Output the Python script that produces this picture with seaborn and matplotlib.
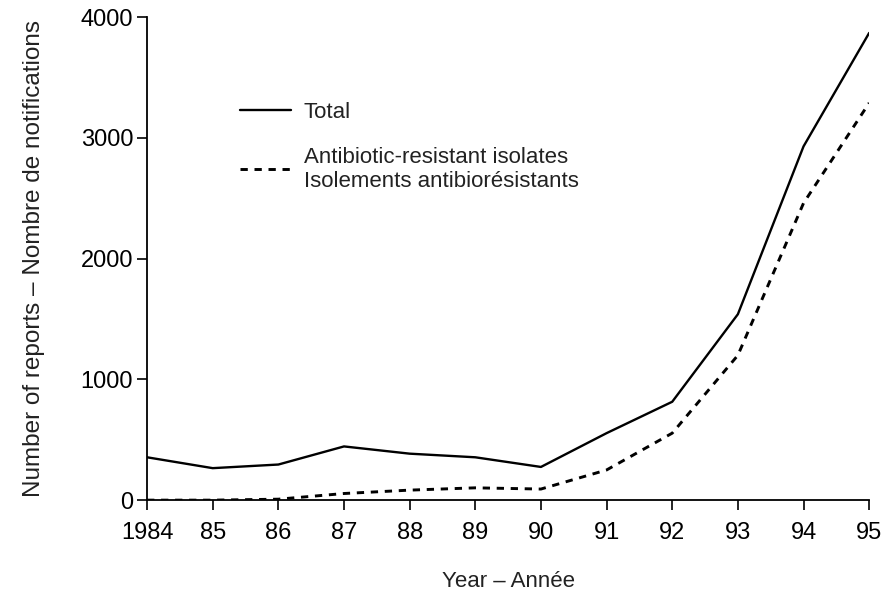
import matplotlib
matplotlib.use("Agg")
import matplotlib.pyplot as plt
import seaborn as sns
import pandas as pd

years = [1984, 1985, 1986, 1987, 1988, 1989, 1990, 1991, 1992, 1993, 1994, 1995]
total = [355, 265, 295, 445, 385, 355, 275, 555, 815, 1540, 2930, 3870]
resistant = [0, 0, 8, 55, 83, 102, 92, 250, 555, 1200, 2460, 3290]
xtick_labels = ["1984", "85", "86", "87", "88", "89", "90", "91", "92", "93", "94", "95"]
yticks = [0, 1000, 2000, 3000, 4000]

sns.set_theme(style="white")
plt.rcParams['font.family'] = ['Liberation Sans', 'DejaVu Sans']

df = pd.DataFrame({"year": years, "Total": total, "Resistant": resistant})

fig = plt.figure(figsize=(8.86, 5.94), dpi=100)
ax = fig.add_axes([0.166, 0.158, 0.815, 0.813])

sns.lineplot(data=df, x="year", y="Total", ax=ax, color="black", lw=1.7,
             label="Total")
sns.lineplot(data=df, x="year", y="Resistant", ax=ax, color="black", lw=2.1,
             linestyle=(0, (2.5, 2.3)),
             label="Antibiotic-resistant isolates\nIsolements antibiorésistants")

ax.set_xlim(1984, 1995)
ax.set_ylim(0, 4000)
ax.set_xticks(years)
ax.set_xticklabels(xtick_labels)
ax.set_yticks(yticks)
ax.tick_params(axis="both", which="both", direction="out", length=7, width=1.2,
               labelsize=17, colors="black", bottom=True, left=True)
ax.tick_params(axis="x", pad=9)
ax.tick_params(axis="y", pad=3)

sns.despine(ax=ax, top=True, right=True)
for s in ["left", "bottom"]:
    ax.spines[s].set_color("black")
    ax.spines[s].set_linewidth(1.3)

ax.set_xlabel("Year – Année", fontsize=16, labelpad=19, color="#222222")
ax.set_ylabel("Number of reports – Nombre de notifications", fontsize=17.5,
              labelpad=26, color="#222222")

leg = ax.legend(loc="upper left", bbox_to_anchor=(0.129, 0.824), frameon=False,
                fontsize=16, handlelength=2.3, handletextpad=0.55,
                labelspacing=1.05, borderaxespad=0, borderpad=0)
for t in leg.get_texts():
    t.set_color("#222222")

fig.savefig("out.png", dpi=100)
